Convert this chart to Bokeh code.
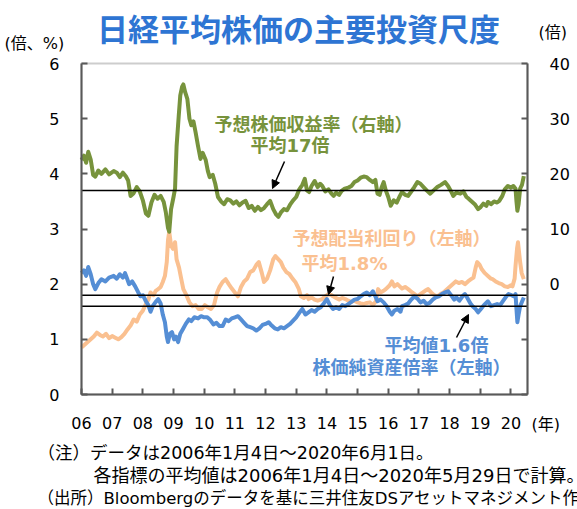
from bokeh.plotting import figure
from bokeh.models import (Range1d, LinearAxis, FixedTicker, Label, Arrow, NormalHead,
                          BoxAnnotation)
from bokeh.embed import file_html
from bokeh.resources import INLINE

# ---------------- data ----------------
per_t = [2006.00, 2006.08, 2006.15, 2006.22, 2006.30, 2006.38, 2006.45, 2006.55, 2006.65, 2006.78,
         2006.90, 2007.05, 2007.15, 2007.25, 2007.35, 2007.45, 2007.52, 2007.60, 2007.70, 2007.80,
         2007.90, 2008.00, 2008.10, 2008.18, 2008.28, 2008.38, 2008.48, 2008.58, 2008.68, 2008.75,
         2008.82, 2008.86, 2008.92, 2009.00, 2009.05, 2009.10, 2009.17, 2009.22, 2009.28, 2009.32,
         2009.38, 2009.45, 2009.52, 2009.58, 2009.65, 2009.72, 2009.80, 2009.88, 2009.95, 2010.05,
         2010.12, 2010.18, 2010.28, 2010.36, 2010.45, 2010.55, 2010.65, 2010.75, 2010.85, 2010.95,
         2011.05, 2011.15, 2011.25, 2011.35, 2011.45, 2011.55, 2011.65, 2011.75, 2011.85, 2011.95,
         2012.05, 2012.15, 2012.25, 2012.35, 2012.42, 2012.50, 2012.60, 2012.70, 2012.80, 2012.90,
         2013.00, 2013.10, 2013.20, 2013.28, 2013.35, 2013.42, 2013.50, 2013.60, 2013.70, 2013.78,
         2013.85, 2013.95, 2014.05, 2014.15, 2014.22, 2014.30, 2014.40, 2014.48, 2014.58, 2014.70,
         2014.80, 2014.90, 2015.00, 2015.10, 2015.20, 2015.30, 2015.40, 2015.50, 2015.58, 2015.65,
         2015.72, 2015.78, 2015.85, 2015.92, 2016.00, 2016.08, 2016.18, 2016.28, 2016.38, 2016.45,
         2016.55, 2016.65, 2016.75, 2016.85, 2016.95, 2017.05, 2017.15, 2017.25, 2017.37, 2017.48,
         2017.60, 2017.72, 2017.85, 2017.95, 2018.05, 2018.12, 2018.22, 2018.35, 2018.45, 2018.55,
         2018.62, 2018.72, 2018.82, 2018.93, 2019.00, 2019.10, 2019.20, 2019.25, 2019.35, 2019.45,
         2019.55, 2019.62, 2019.72, 2019.80, 2019.90, 2020.00, 2020.08, 2020.15, 2020.18, 2020.21,
         2020.25, 2020.30, 2020.36, 2020.42]
per_v = [22.5, 23.3, 22.0, 24.0, 22.6, 19.8, 19.5, 20.6, 20.0, 20.8,
         19.9, 20.5, 20.2, 19.4, 20.2, 19.5, 18.8, 16.0, 16.5, 17.6,
         16.8, 15.2, 12.8, 12.4, 14.8, 16.2, 15.5, 16.0, 14.9, 13.0,
         10.2, 9.5, 13.6, 15.8, 17.3, 25.0, 30.5, 34.2, 35.8, 36.2,
         34.8, 33.6, 30.0, 28.8, 29.5, 27.5, 25.0, 22.7, 23.8, 22.5,
         20.5, 19.4, 19.8, 18.2, 15.8, 15.0, 14.5, 15.4, 15.2, 14.6,
         15.0, 14.3, 14.8, 15.1, 13.8, 14.2, 13.3, 14.0, 13.4, 13.8,
         14.5, 15.1, 13.6, 12.6, 12.2, 13.0, 13.6, 13.4, 14.4, 15.2,
         15.8, 17.2, 18.0, 19.1, 17.0, 16.7, 17.8, 18.7, 17.6, 18.2,
         17.8, 16.8, 17.2, 16.4, 16.0, 16.6, 16.2, 16.9, 17.3, 17.5,
         17.8, 18.5, 18.8, 19.3, 19.5, 19.4, 18.9, 18.5, 18.9, 16.4,
         16.2, 17.5, 18.5, 17.0, 15.8, 14.2, 15.2, 14.8, 16.0, 16.7,
         16.2, 16.0, 16.8, 17.6, 18.5, 18.2, 17.6, 17.0, 16.4, 17.0,
         17.6, 18.0, 18.5, 17.8, 16.8, 16.0, 16.6, 16.4, 16.8, 15.8,
         15.5, 15.0, 14.5, 13.6, 13.9, 14.6, 14.2, 14.9, 14.5, 15.0,
         14.8, 15.1, 16.0, 17.2, 17.8, 17.5, 17.8, 17.3, 15.0, 13.3,
         14.5, 17.3, 18.0, 19.6]

pbr_t = [2006.00, 2006.08, 2006.15, 2006.22, 2006.30, 2006.38, 2006.45, 2006.55, 2006.65, 2006.78,
         2006.90, 2007.05, 2007.15, 2007.25, 2007.35, 2007.42, 2007.50, 2007.55, 2007.65, 2007.75,
         2007.85, 2007.92, 2008.00, 2008.10, 2008.18, 2008.25, 2008.32, 2008.42, 2008.50, 2008.58,
         2008.65, 2008.72, 2008.78, 2008.82, 2008.88, 2008.95, 2009.02, 2009.08, 2009.15, 2009.22,
         2009.30, 2009.40, 2009.50, 2009.58, 2009.68, 2009.80, 2009.90, 2010.00, 2010.10, 2010.20,
         2010.30, 2010.40, 2010.50, 2010.60, 2010.70, 2010.80, 2010.90, 2011.00, 2011.10, 2011.20,
         2011.30, 2011.40, 2011.50, 2011.60, 2011.70, 2011.80, 2011.90, 2012.00, 2012.10, 2012.20,
         2012.30, 2012.40, 2012.50, 2012.60, 2012.70, 2012.80, 2012.90, 2013.00, 2013.10, 2013.20,
         2013.30, 2013.40, 2013.50, 2013.60, 2013.70, 2013.80, 2013.90, 2014.00, 2014.10, 2014.20,
         2014.30, 2014.40, 2014.50, 2014.60, 2014.70, 2014.80, 2014.90, 2015.00, 2015.10, 2015.20,
         2015.30, 2015.40, 2015.50, 2015.58, 2015.65, 2015.75, 2015.85, 2015.95, 2016.05, 2016.12,
         2016.20, 2016.30, 2016.40, 2016.45, 2016.55, 2016.65, 2016.75, 2016.85, 2016.95, 2017.05,
         2017.15, 2017.25, 2017.35, 2017.45, 2017.55, 2017.65, 2017.75, 2017.85, 2017.95, 2018.05,
         2018.15, 2018.22, 2018.32, 2018.42, 2018.50, 2018.58, 2018.68, 2018.75, 2018.85, 2018.93,
         2019.02, 2019.12, 2019.25, 2019.35, 2019.45, 2019.55, 2019.65, 2019.75, 2019.85, 2019.92,
         2020.02, 2020.10, 2020.15, 2020.18, 2020.21, 2020.25, 2020.30, 2020.36, 2020.42]
pbr_v = [2.20, 2.25, 2.15, 2.31, 2.18, 2.00, 1.91, 2.02, 2.09, 2.05,
         2.12, 2.15, 2.10, 2.18, 2.12, 2.20, 2.08, 2.00, 2.05, 1.96,
         1.85, 1.78, 1.80, 1.69, 1.62, 1.50, 1.60, 1.68, 1.73, 1.65,
         1.45, 1.31, 1.05, 0.95, 1.10, 1.13, 1.00, 1.05, 0.95, 1.10,
         1.18, 1.28, 1.36, 1.33, 1.40, 1.38, 1.42, 1.40, 1.40, 1.35,
         1.27, 1.30, 1.24, 1.24, 1.36, 1.33, 1.38, 1.40, 1.42, 1.36,
         1.30, 1.24, 1.22, 1.20, 1.16, 1.20, 1.26, 1.28, 1.31, 1.25,
         1.20, 1.18, 1.22, 1.20, 1.24, 1.28, 1.34, 1.40, 1.48, 1.55,
         1.45, 1.49, 1.53, 1.50, 1.55, 1.58, 1.65, 1.73, 1.62, 1.55,
         1.58, 1.55, 1.62, 1.60, 1.64, 1.68, 1.72, 1.73, 1.78, 1.82,
         1.85, 1.80, 1.87, 1.78, 1.69, 1.72, 1.67, 1.60, 1.50, 1.45,
         1.52, 1.55, 1.50, 1.60, 1.62, 1.65, 1.72, 1.78, 1.74, 1.67,
         1.70, 1.64, 1.66, 1.72, 1.76, 1.78, 1.82, 1.85, 1.87, 1.80,
         1.72, 1.76, 1.70, 1.78, 1.82, 1.75, 1.65, 1.60, 1.55, 1.49,
         1.55, 1.62, 1.69, 1.60, 1.62, 1.64, 1.62, 1.70, 1.78, 1.82,
         1.80, 1.78, 1.82, 1.55, 1.31, 1.45, 1.60, 1.68, 1.76]

dy_t = [2006.00, 2006.10, 2006.20, 2006.30, 2006.40, 2006.50, 2006.60, 2006.70, 2006.80, 2006.90,
        2007.00, 2007.10, 2007.20, 2007.30, 2007.40, 2007.50, 2007.60, 2007.70, 2007.80, 2007.90,
        2008.00, 2008.10, 2008.18, 2008.25, 2008.35, 2008.42, 2008.50, 2008.58, 2008.65, 2008.72,
        2008.78, 2008.82, 2008.86, 2008.92, 2008.98, 2009.05, 2009.10, 2009.18, 2009.25, 2009.32,
        2009.42, 2009.52, 2009.62, 2009.72, 2009.82, 2009.92, 2010.02, 2010.12, 2010.22, 2010.32,
        2010.42, 2010.50, 2010.60, 2010.70, 2010.80, 2010.90, 2011.00, 2011.10, 2011.20, 2011.30,
        2011.40, 2011.50, 2011.60, 2011.70, 2011.78, 2011.88, 2011.95, 2012.05, 2012.15, 2012.25,
        2012.32, 2012.42, 2012.50, 2012.58, 2012.68, 2012.78, 2012.88, 2012.97, 2013.08, 2013.15,
        2013.25, 2013.35, 2013.40, 2013.50, 2013.60, 2013.70, 2013.85, 2013.95, 2014.05, 2014.15,
        2014.20, 2014.30, 2014.40, 2014.50, 2014.60, 2014.70, 2014.80, 2014.90, 2015.00, 2015.10,
        2015.20, 2015.30, 2015.40, 2015.50, 2015.60, 2015.67, 2015.75, 2015.85, 2015.92, 2016.05,
        2016.12, 2016.20, 2016.30, 2016.45, 2016.55, 2016.65, 2016.78, 2016.90, 2016.95, 2017.05,
        2017.20, 2017.30, 2017.40, 2017.50, 2017.60, 2017.70, 2017.80, 2017.90, 2018.00, 2018.10,
        2018.20, 2018.30, 2018.40, 2018.50, 2018.60, 2018.70, 2018.78, 2018.85, 2018.90, 2018.98,
        2019.05, 2019.15, 2019.25, 2019.35, 2019.40, 2019.50, 2019.60, 2019.70, 2019.80, 2019.90,
        2020.00, 2020.05, 2020.12, 2020.15, 2020.20, 2020.23, 2020.27, 2020.30, 2020.35, 2020.42]
dy_v = [0.85, 0.90, 0.95, 1.00, 1.05, 1.12, 1.08, 1.05, 1.10, 1.02,
        1.06, 1.03, 1.00, 1.04, 1.10, 1.18, 1.25, 1.36, 1.32, 1.45,
        1.52, 1.64, 1.72, 1.85, 1.80, 1.88, 1.91, 1.95, 2.04, 2.15,
        2.40, 2.80, 2.95, 2.70, 2.64, 2.76, 2.45, 2.30, 2.10, 1.91,
        1.80, 1.67, 1.60, 1.62, 1.55, 1.55, 1.62, 1.58, 1.55, 1.62,
        1.85, 1.95, 2.04, 2.09, 2.00, 1.92, 1.85, 1.78, 1.95, 2.05,
        2.10, 2.22, 2.25, 2.35, 2.40, 2.20, 2.04, 2.10, 2.25, 2.45,
        2.51, 2.45, 2.40, 2.30, 2.22, 2.18, 2.10, 2.04, 1.92, 1.78,
        1.75, 1.80, 1.73, 1.76, 1.72, 1.70, 1.73, 1.78, 1.82, 1.80,
        1.78, 1.75, 1.72, 1.75, 1.73, 1.70, 1.68, 1.70, 1.67, 1.65,
        1.64, 1.66, 1.67, 1.62, 1.69, 1.91, 1.85, 1.88, 1.91, 1.98,
        2.05, 1.96, 2.00, 1.92, 1.95, 1.91, 1.85, 1.80, 1.78, 1.82,
        1.88, 1.91, 1.85, 1.80, 1.78, 1.82, 1.85, 1.90, 1.95, 2.00,
        2.05, 2.02, 2.04, 2.00, 2.05, 2.09, 2.12, 2.30, 2.40, 2.35,
        2.27, 2.20, 2.15, 2.10, 2.09, 2.05, 2.02, 2.00, 1.96, 1.95,
        1.98, 1.96, 2.10, 2.33, 2.65, 2.76, 2.55, 2.40, 2.20, 2.09]

avg_per = 17.0
avg_dy = 1.8
avg_pbr = 1.6

year_ticks = list(range(2006, 2021))
year_labels = ["06", "07", "08", "09", "10", "11", "12", "13", "14", "15", "16", "17", "18", "19", "20"]
left_ticks = [0, 1, 2, 3, 4, 5, 6]
right_ticks = [-20, -10, 0, 10, 20, 30, 40]

title_text = "日経平均株価の主要投資尺度"
note_lines = ["（注）データは2006年1月4日～2020年6月1日。",
              "各指標の平均値は2006年1月4日～2020年5月29日で計算。",
              "（出所）Bloombergのデータを基に三井住友DSアセットマネジメント作成"]

# ---------------- layout ----------------
# The frame fills the whole canvas; the axes are fixed at the edges of the data box.
W, H = 577, 509
PL, PR, PT, PB = 81, 527, 63, 394          # pixel edges of the data box
XA, XB = 2006.0, 2020.54                   # data box, x (years)
YA, YB = 0.0, 6.0                          # data box, left axis
RA, RB = -20.0, 40.0                       # data box, right axis
xs = (PR - PL) / (XB - XA)
ys = (PB - PT) / (YB - YA)
x_lo, x_hi = XA - PL / xs, XA + (W - PL) / xs
y_lo, y_hi = YA - (H - PB) / ys, YA + PB / ys
rk = (RB - RA) / (YB - YA)
r_lo, r_hi = RA + (y_lo - YA) * rk, RA + (y_hi - YA) * rk

def dx(px):
    return x_lo + px / xs

def dyy(py):
    return y_hi - py / ys

GREEN = "#77933C"
ORANGE = "#FAC090"
BLUE = "#558ED5"
FRAME = "#595959"
MIX = "DejaVu Sans, Noto Sans CJK JP"

p = figure(width=W, height=H, output_backend="svg", toolbar_location=None,
           x_range=Range1d(x_lo, x_hi), y_range=Range1d(y_lo, y_hi),
           x_axis_type=None, y_axis_type=None,
           min_border_left=0, min_border_right=0, min_border_top=0, min_border_bottom=0)
p.extra_y_ranges = {"per": Range1d(r_lo, r_hi)}
p.outline_line_color = None
p.background_fill_color = "white"
p.border_fill_color = "white"

def style_axis(ax, standoff):
    ax.axis_line_color = FRAME
    ax.axis_line_width = 2
    ax.major_tick_line_color = FRAME
    ax.major_tick_line_width = 2
    ax.major_tick_in = 6
    ax.major_tick_out = 0
    ax.minor_tick_in = 0
    ax.minor_tick_out = 0
    ax.major_label_text_font = "DejaVu Sans"
    ax.major_label_text_font_size = "16px"
    ax.major_label_text_color = "#000000"
    ax.major_label_standoff = standoff

xa = LinearAxis(ticker=FixedTicker(ticks=year_ticks), fixed_location=YA, bounds=(XA, XB))
xa.major_label_overrides = {t: l for t, l in zip(year_ticks, year_labels)}
style_axis(xa, 22)
p.add_layout(xa, "below")

ya = LinearAxis(ticker=FixedTicker(ticks=left_ticks), fixed_location=XA, bounds=(YA, YB))
style_axis(ya, 22)
p.add_layout(ya, "left")

ra = LinearAxis(y_range_name="per", ticker=FixedTicker(ticks=right_ticks),
                fixed_location=XB, bounds=(RA, RB))
ra.major_label_overrides = {t: ("" if t < 0 else str(t)) for t in right_ticks}
style_axis(ra, 22)
p.add_layout(ra, "right")

p.add_layout(BoxAnnotation(left=XA, right=XB, bottom=YA, top=YB, fill_alpha=0,
                           line_color=FRAME, line_width=2, level="underlay"))

# series
p.line(dy_t, dy_v, line_color=ORANGE, line_width=4, line_join="round")
p.line(pbr_t, pbr_v, line_color=BLUE, line_width=4, line_join="round")
p.line(per_t, per_v, line_color=GREEN, line_width=4, line_join="round", y_range_name="per")

# averages
p.line([XA, XB], [avg_per, avg_per], line_color="black", line_width=1.5, y_range_name="per")
p.line([XA, XB], [avg_dy, avg_dy], line_color="black", line_width=1.5)
p.line([XA, XB], [avg_pbr, avg_pbr], line_color="black", line_width=1.5)

def lab(px, py, text, size, color="black", bold=False, align="left", font=MIX):
    p.add_layout(Label(x=dx(px), y=dyy(py), text=text, text_font=font,
                       text_font_size=f"{size}px", text_color=color,
                       text_font_style="bold" if bold else "normal",
                       text_align=align, text_baseline="middle"))

lab(298, 27, title_text, 31, color="#2E75D3", bold=True, align="center", font="Noto Sans CJK JP")
lab(4, 43, "(倍、%)", 16)
lab(538, 32, "(倍)", 16)
lab(531, 424, "(年)", 16)
lab(37, 452, note_lines[0], 17.5)
lab(93, 475, note_lines[1], 18)
lab(37, 498, note_lines[2], 16.5)

lab(214, 124, "予想株価収益率（右軸）", 18, GREEN, True)
lab(250, 145, f"平均{avg_per:.0f}倍", 18, GREEN, True)
lab(292, 238, "予想配当利回り（左軸）", 18, ORANGE, True)
lab(301, 263, f"平均{avg_dy:.1f}%", 18, ORANGE, True)
lab(384, 345, f"平均値{avg_pbr:.1f}倍", 18, BLUE, True)
lab(312, 367, "株価純資産倍率（左軸）", 18, BLUE, True)

def arrow(x1, y1, x2, y2):
    p.add_layout(Arrow(end=NormalHead(size=8, fill_color="black", line_color="black"),
                       x_start=dx(x1), y_start=dyy(y1), x_end=dx(x2), y_end=dyy(y2),
                       line_color="black", line_width=1.5))

arrow(284, 161, 272, 188)
arrow(333, 276, 328, 294)
arrow(456, 337, 468, 314)

open("out.html", "w").write(file_html(p, INLINE))
